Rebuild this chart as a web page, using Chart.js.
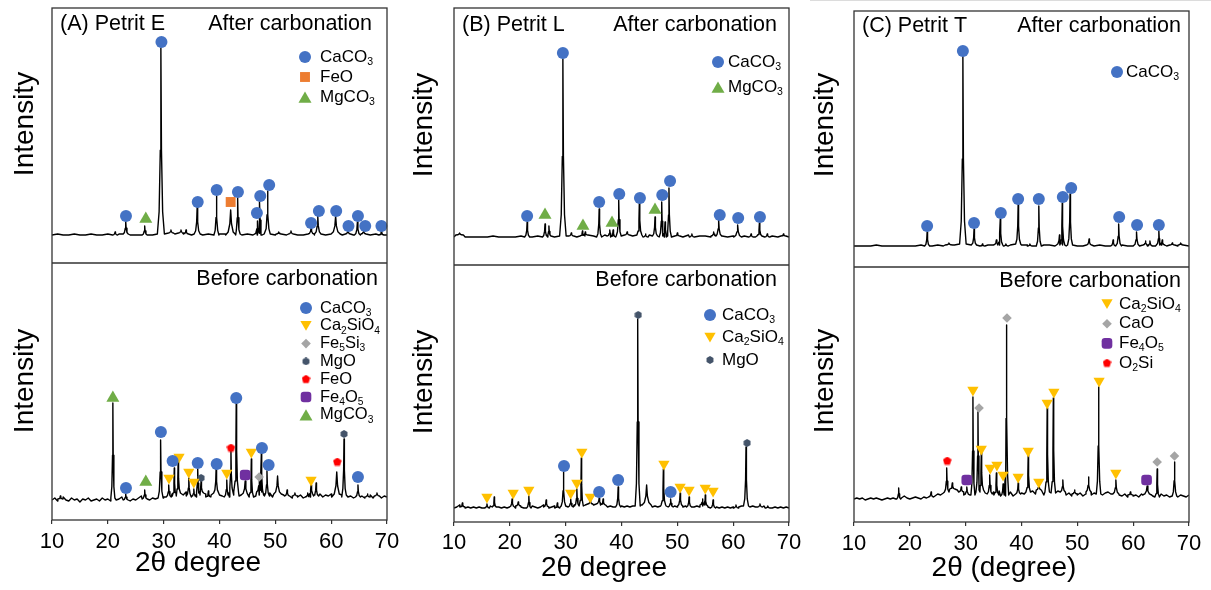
<!DOCTYPE html>
<html>
<head>
<meta charset="utf-8">
<script src="https://cdn.jsdelivr.net/npm/chart.js@4.4.1/dist/chart.umd.min.js"></script>
<style>
  body { margin: 0; background: #fff; width: 1211px; height: 590px; overflow: hidden; position: relative; }
  canvas { position: absolute; top: 0; }
  #topline { position: absolute; left: 810px; top: 0; width: 401px; height: 1px; background: #dcdcdc; }
</style>
</head>
<body>
<div id="topline"></div>
<canvas id="chartA" width="410" height="590" style="left:0"></canvas>
<canvas id="chartB" width="410" height="590" style="left:400px"></canvas>
<canvas id="chartC" width="411" height="590" style="left:800px"></canvas>
<script>
const FONT = "'Liberation Sans', Arial, Helvetica, sans-serif"
Chart.defaults.font.family = FONT
Chart.defaults.color = '#000'

/* ---------- data ---------- */
// background traces: values from 10 to 70 degrees, evenly spaced
// peaks: [2theta, height, width factor]
// phase marks: [2theta, intensity]

// (A) Petrit E, after carbonation
let aAfterBase = [0,1,0,0,1,0,0,1,0,0, 1,0,1,1,0,0,0,0,0,1, 1,2,1,2,1,0,1,0,1,0, 1,1,0,1,0,1,0,0,1,1, 0,1,0,1,0,0,1,0,1,0, 0,1,0,1,0,0,1,0,1,0, 0]
let aAfterPeaks = [[21.3,3,1],[23.2,13,1],[26.6,9,1],[29.5,186,1.4],[31.3,3,1],[33.1,3,1],[34.0,4,1],[36.0,27,1.2],[39.45,39,1],[42.0,25,2],[43.25,36,1],[46.8,14,1.4],[47.2,33,1],[48.6,43,1.1],[50.6,2,1],[52.8,3,1],[56.4,6,1.2],[57.6,18,1.3],[60.8,18,1.8],[63.0,4,1],[64.7,13,1.2],[65.8,4,1],[69.0,4,1]]
let aAfterCaCO3 = [[23.25,19],[29.6,193],[36.1,33],[39.5,45],[43.3,43],[46.7,22],[47.3,39],[48.9,50],[56.4,12],[57.8,24],[60.9,24],[63.1,9],[64.8,19],[66.1,9],[69.0,9]]
let aAfterFeO = [[42.0,33]]
let aAfterMgCO3 = [[26.8,16]]

// (A) Petrit E, before carbonation
let aBeforeBase = [0,2,-1,1,3,0,-1,2,0,1,-2,1,0,2,-1,0,1,-1,2,0,1,
  -1,2,0,1,3,0,2,-1,1,0,2,4,1,3,0,2,1,4,2,3,
  5,3,6,4,7,3,5,8,4,6,3,5,7,4,6,3,5,4,7,5,
  4,6,3,7,5,8,4,6,5,7,3,6,4,8,5,6,4,7,3,5,
  6,3,5,4,6,2,4,3,5,2,4,3,5,7,4,6,3,5,4,6,
  5,3,6,4,5,3,4,2,5,3,4,2,3,5,2,4,3,2,4,3]
let aBeforePeaks = [[11.5,3,1],[20.9,95,0.8],[23.2,6,1],[26.6,9,1],[29.45,58,1],[30.9,12,1],[31.9,28,0.8],[32.6,33,0.9],[34.5,18,1],[35.4,8,1],[36.1,26,0.9],[36.7,12,1],[38.0,6,1],[39.4,26,1],[41.3,17,1],[42.05,42,0.9],[43.0,92,0.9],[44.6,14,1.6],[45.7,38,0.9],[47.1,14,1],[47.5,42,0.9],[48.5,25,1],[50.4,18,1.5],[52.1,6,1],[53.5,3,1],[55.8,4,1],[56.4,10,1.2],[57.3,13,1],[61.0,25,2],[62.3,56,0.9],[64.8,12,1],[66.5,3,1],[68.2,3,1]]
let aBeforeCaCO3 = [[23.25,12],[29.5,68],[31.6,39],[36.1,37],[39.5,36],[43.0,102],[47.6,52],[48.8,35],[64.8,23]]
let aBeforeCa2SiO4 = [[30.95,22],[32.75,43],[34.5,28],[35.4,18],[41.3,27],[45.7,48],[56.4,20]]
let aBeforeFe5Si3 = [[47.1,23]]
let aBeforeMgO = [[36.7,22],[62.3,66]]
let aBeforeFeO = [[42.05,52],[61.1,38]]
let aBeforeFe4O5 = [[44.6,25]]
let aBeforeMgCO3 = [[20.9,102],[26.8,18]]

// (B) Petrit L, after carbonation
let bAfterBase = [0,2,0,0,0,0,0,1,0,0, 0,0,1,0,0,1,0,1,0,2, 1,1,0,1,2,1,0,2,1,0, 1,2,1,2,0,2,1,0,1,0, 1,0,2,0,1,1,0,1,1,0, 1,0,1,0,0,1,0,1,0,1, 0]
let bAfterPeaks = [[11.0,2,1.5],[23.1,15,1],[26.3,13,1],[27.0,10,0.8],[29.5,177,1.3],[31.0,3,1],[33.0,5,1],[33.5,3,1],[36.0,28,1],[37.9,6,1],[38.5,7,1],[39.5,36,1],[41.0,3,1],[43.2,33,1],[44.3,3,1],[46.0,19,1],[47.2,35,1],[47.8,14,1],[48.5,49,1],[50.0,3,1],[52.6,3,1],[56.5,4,1],[57.4,16,1.2],[60.8,12,1.5],[63.2,3,1],[64.7,13,1],[66.1,3,1],[69.0,2,1]]
let bAfterCaCO3 = [[23.1,21],[29.5,184],[36.0,35],[39.6,43],[43.3,39],[47.3,42],[48.7,56],[57.6,22],[60.9,19],[64.8,20]]
let bAfterMgCO3 = [[26.3,22],[33.1,11],[38.3,14],[46.0,27]]

// (B) Petrit L, before carbonation
let bBeforeBase = [0,1,3,1,0,1,0,1,0,1,0,1,0,2,1,0,1,0,1,0,2,
  1,0,2,1,0,1,0,2,1,0,1,3,1,0,1,2,0,1,2,1,
  2,1,3,2,1,2,3,2,4,3,5,4,3,2,1,2,1,2,1,2,
  1,2,1,2,3,2,3,2,3,2,1,2,1,2,3,2,2,1,2,1,
  2,1,2,1,0,1,2,1,3,2,1,2,0,1,0,1,0,1,0,1,
  0,1,2,1,2,1,2,1,0,1,2,0,1,0,1,0,1,0,1,0]
let bBeforePeaks = [[11.5,4,1],[15.9,4,1],[17.2,10,0.8],[20.4,8,1],[21.5,4,1],[23.4,12,0.9],[26.5,7,1],[28.5,5,1],[29.6,34,0.9],[30.9,8,1],[32.0,17,0.9],[32.8,48,0.8],[34.4,4,1],[36.0,6,1.2],[36.7,6,1],[39.4,20,1],[42.9,187,1],[44.5,20,1.8],[47.5,36,0.9],[48.8,8,1],[50.5,13,1],[52.1,10,1],[54.5,6,1],[55.0,11,1],[56.4,8,1],[60.5,3,1],[62.3,59,1],[64.8,3,1],[66.2,2,1]]
let bBeforeCaCO3 = [[29.7,42],[36.0,16],[39.4,28],[48.8,16]]
let bBeforeCa2SiO4 = [[15.9,11],[20.6,15],[23.4,18],[30.9,15],[32.0,25],[32.9,56],[34.4,11],[47.6,44],[50.5,21],[52.1,18],[55.0,20],[56.4,17]]
let bBeforeMgO = [[43.0,193],[62.5,65]]

// (C) Petrit T, after carbonation
let cAfterBase = [0,0,0,0,1,0,0,0,0,0, 0,0,1,0,0,1,0,1,1,1, 2,1,1,0,1,0,1,0,1,2, 1,1,0,0,1,1,0,1,0,1, 0,0,1,0,1,0,0,0,1,0, 0,0,1,0,0,1,0,1,0,1, 0]
let cAfterPeaks = [[23.1,14,1],[27.0,2,1.5],[29.5,189,1.3],[31.5,16,1],[33.0,2,1],[35.5,5,1.2],[36.2,26,1],[37.2,2,1],[39.4,40,1],[41.5,2,1],[43.1,40,1],[46.8,10,1.2],[47.3,42,1],[48.7,51,1],[52.1,6,1],[56.4,6,1],[57.4,22,1.1],[60.6,14,1.2],[62.2,4,1],[63.0,5,1],[64.6,14,1],[65.2,5,1],[67.0,2,1],[68.5,2,1]]
let cAfterCaCO3 = [[23.1,20],[29.5,195],[31.5,23],[36.3,33],[39.4,47],[43.1,47],[47.4,49],[48.9,58],[57.5,29],[60.7,21],[64.6,21]]

// (C) Petrit T, before carbonation
let cBeforeBase = [0,1,0,1,-1,0,1,0,1,0,-1,0,1,0,1,0,0,1,3,1,0,
  1,2,1,0,2,1,3,2,3,5,4,6,7,9,10,8,9,7,5,4,
  6,8,4,7,3,9,6,10,5,7,4,8,3,6,4,7,3,9,5,6,
  5,7,4,8,5,9,6,4,7,3,6,4,8,5,7,4,6,3,5,4,
  6,3,5,7,4,6,3,5,4,6,7,5,3,5,4,3,5,2,4,3,
  4,2,5,3,4,6,3,4,2,5,3,4,2,5,3,2,4,3,2,4]
let cBeforePeaks = [[18.0,11,0.8],[23.8,5,1],[26.6,24,0.9],[27.6,6,1],[29.2,5,1],[30.2,8,1.2],[31.3,98,0.8],[32.2,80,0.8],[32.8,38,0.9],[34.3,19,1],[35.5,22,1],[36.7,12,1],[37.3,170,0.9],[39.4,11,1],[41.2,37,0.9],[43.1,6,1],[44.6,84,0.9],[45.7,95,0.9],[47.4,12,1],[49.5,4,1],[52.0,15,1],[53.8,107,0.9],[56.9,14,1.2],[59.5,3,1],[62.5,9,1.8],[64.3,28,0.9],[67.4,34,0.9]]
let cBeforeCa2SiO4 = [[31.3,109],[32.8,50],[34.4,31],[35.6,34],[36.7,24],[39.4,22],[41.2,48],[43.1,17],[44.6,96],[45.8,107],[53.9,118],[56.9,26]]
let cBeforeCaO = [[32.4,91],[37.4,181],[64.3,37],[67.4,43]]
let cBeforeFe4O5 = [[30.2,19],[62.4,19]]
let cBeforeO2Si = [[26.7,38]]

let xTicks = [10, 20, 30, 40, 50, 60, 70]

/* ---------- phase marker styles ---------- */
let phases = {
  CaCO3:   { label: 'CaCO{3}', color: '#4472C4', point: 'circle', r: 6 },
  FeOsq:   { label: 'FeO', color: '#ED7D31', point: 'rect', r: 7 },
  MgCO3:   { label: 'MgCO{3}', color: '#70AD47', point: 'triangle', r: 7.5 },
  Ca2SiO4: { label: 'Ca{2}SiO{4}', color: '#FFC000', point: 'triangle', r: 6.5, rot: 180 },
  Fe5Si3:  { label: 'Fe{5}Si{3}', color: '#A5A5A5', point: 'rectRot', r: 4.8 },
  CaO:     { label: 'CaO', color: '#A5A5A5', point: 'rectRot', r: 4.8 },
  MgO:     { label: 'MgO', color: '#44546A', poly: 6, size: 8 },
  FeO:     { label: 'FeO', color: '#FF0000', poly: 5, size: 9 },
  Fe4O5:   { label: 'Fe{4}O{5}', color: '#7030A0', point: 'rectRounded', r: 6.2 },
  O2Si:    { label: 'O{2}Si', color: '#FF0000', poly: 5, size: 9 }
}

// pentagon / hexagon markers are small canvases
function polygon(sides, size, color) {
  let c = document.createElement('canvas')
  c.width = c.height = size
  let g = c.getContext('2d')
  g.fillStyle = color
  g.beginPath()
  for (let i = 0; i < sides; i++) {
    let a = -Math.PI / 2 + i * 2 * Math.PI / sides
    g.lineTo(size / 2 + size / 2 * Math.cos(a), size / 2 + size / 2 * Math.sin(a))
  }
  g.fill()
  return c
}
Object.values(phases).forEach(p => {
  if (p.poly) { p.point = polygon(p.poly, p.size, p.color); p.r = p.size / 2 }
})

// shape of one diffraction peak: [offset in width units, fraction of height]
let profile = [[-0.6,0],[-0.3,0.12],[-0.1,0.45],[0,1],[0.1,0.45],[0.3,0.12],[0.6,0]]

function buildPattern(base, peaks) {
  let step = 60 / (base.length - 1)
  let basePts = base.map((v, i) => ({ x: 10 + i * step, y: v }))
  let peakPts = []
  peaks.forEach(([pos, h, w]) => {
    let width = w * 0.75
    let b = base[Math.round((pos - 10) / step)]
    basePts = basePts.filter(p => Math.abs(p.x - pos) > 0.6 * width)
    profile.forEach(([dx, f]) => peakPts.push({ x: pos + dx * width, y: b + f * h }))
  })
  return basePts.concat(peakPts).sort((p, q) => p.x - q.x)
}

// text with {subscripts}
function drawRich(ctx, text, x, y, size) {
  let parts = text.split(/(\{[^}]*\})/).filter(s => s)
  ctx.textAlign = 'left'
  parts.forEach(s => {
    if (s[0] == '{') {
      let t = s.slice(1, -1)
      ctx.font = (size * 0.62) + 'px ' + FONT
      ctx.textBaseline = 'alphabetic'
      ctx.fillText(t, x, y + size * 0.47)
      x += ctx.measureText(t).width
    } else {
      ctx.font = size + 'px ' + FONT
      ctx.textBaseline = 'middle'
      ctx.fillText(s, x, y)
      x += ctx.measureText(s).width
    }
  })
}

// frame, panel texts and legends
let decor = {
  id: 'decor',
  afterDraw(chart, args, o) {
    let ctx = chart.ctx
    let a = chart.chartArea
    let mid = chart.scales.yTop.bottom
    ctx.save()
    ctx.strokeStyle = '#333'
    ctx.lineWidth = 1.3
    ctx.strokeRect(a.left, a.top, a.width, a.height)
    ctx.beginPath()
    ctx.moveTo(a.left, mid)
    ctx.lineTo(a.right, mid)
    ctx.stroke()

    ctx.fillStyle = '#000'
    ctx.textBaseline = 'middle'
    ctx.font = '21.5px ' + FONT
    ctx.textAlign = 'left'
    ctx.fillText(o.name, o.nameX, o.nameY)
    ctx.textAlign = 'right'
    ctx.fillText('After carbonation', o.stateX, o.afterY)
    ctx.fillText('Before carbonation', o.stateX2, o.beforeY)

    ctx.textAlign = 'center'
    ctx.font = '28px ' + FONT
    ctx.fillText(o.xTitle, o.xTitleX, o.xTitleY)
    o.intensityY.forEach(y => {
      ctx.save()
      ctx.translate(o.intensityX, y)
      ctx.rotate(-Math.PI / 2)
      ctx.fillText('Intensity', 0, 0)
      ctx.restore()
    })

    o.legends.forEach(lg => {
      lg.items.forEach((k, i) => {
        let p = phases[k]
        let y = lg.y + i * lg.dy
        ctx.fillStyle = p.color
        Chart.helpers.drawPoint(ctx, { pointStyle: p.point, radius: p.r, rotation: p.rot || 0, borderWidth: 0 }, lg.x, y + (p.point == 'triangle' ? (p.rot ? -p.r / 4 : p.r / 4) : 0))
        ctx.fillStyle = '#000'
        drawRich(ctx, p.label, lg.tx, y, lg.size)
      })
    })
    ctx.restore()
  }
}

function markSets(marks, axis) {
  return Object.entries(marks).map(([k, pts]) => {
    let p = phases[k]
    return {
      data: pts.map(([x, y]) => ({ x, y })),
      yAxisID: axis,
      pointStyle: p.point,
      pointRadius: p.r,
      pointRotation: p.rot || 0,
      backgroundColor: p.color,
      pointBackgroundColor: p.color,
      pointBorderWidth: 0,
      borderWidth: 0,
      showLine: false,
      clip: 12,
      order: 0
    }
  })
}

function makePanel(id, cfg) {
  let trace = (part, axis) => ({
    data: buildPattern(part.base, part.peaks), yAxisID: axis, showLine: true,
    borderColor: '#000', borderWidth: 1.4, borderJoinStyle: 'round', pointRadius: 0, tension: 0, order: 10
  })
  let datasets = [trace(cfg.after, 'yTop'), trace(cfg.before, 'yBot')]
    .concat(markSets(cfg.after.marks, 'yTop'), markSets(cfg.before.marks, 'yBot'))

  let yAxis = (range, w, weight) => ({
    type: 'linear', position: 'left', stack: 'xrd', stackWeight: w, weight: weight,
    min: range[0], max: range[1],
    ticks: { display: false }, grid: { display: false, drawTicks: false }, border: { display: false },
    afterFit: s => { s.width = cfg.yAxisW }
  })

  new Chart(document.getElementById(id), {
    type: 'scatter',
    data: { datasets },
    options: {
      responsive: false,
      animation: false,
      events: [],
      layout: { padding: cfg.padding },
      scales: {
        x: {
          type: 'linear', min: 10, max: 70,
          afterBuildTicks: s => { s.ticks = xTicks.map(v => ({ value: v })) },
          ticks: { font: { size: 22 }, color: '#000', padding: cfg.tickPad },
          grid: { drawOnChartArea: false, drawTicks: true, tickLength: 4, color: '#333', lineWidth: 1.2 },
          border: { display: false },
          afterFit: s => { s.height = cfg.xAxisH }
        },
        yTop: yAxis(cfg.after.range, cfg.after.weight, 2),
        yBot: yAxis(cfg.before.range, cfg.before.weight, 1)
      },
      plugins: { legend: { display: false }, tooltip: { enabled: false }, decor: cfg.decor }
    },
    plugins: [decor]
  })
}

makePanel('chartA', {
  padding: { left: 0, right: 23, top: 8, bottom: 10 }, yAxisW: 52, xAxisH: 60, tickPad: 5,
  after: { base: aAfterBase, peaks: aAfterPeaks, range: [-28, 227], weight: 255,
    marks: { CaCO3: aAfterCaCO3, FeOsq: aAfterFeO, MgCO3: aAfterMgCO3 } },
  before: { base: aBeforeBase, peaks: aBeforePeaks, range: [-20, 237], weight: 257,
    marks: { CaCO3: aBeforeCaCO3, Ca2SiO4: aBeforeCa2SiO4, Fe5Si3: aBeforeFe5Si3, MgO: aBeforeMgO, FeO: aBeforeFeO, Fe4O5: aBeforeFe4O5, MgCO3: aBeforeMgCO3 } },
  decor: {
    name: '(A) Petrit E', nameX: 60, nameY: 24, stateX: 372, afterY: 24, stateX2: 378, beforeY: 279,
    xTitle: '2θ degree', xTitleX: 198, xTitleY: 563, intensityX: 25, intensityY: [124, 381],
    legends: [
      { items: ['CaCO3', 'FeOsq', 'MgCO3'], x: 305, tx: 320, y: 57, dy: 20, size: 17 },
      { items: ['CaCO3', 'Ca2SiO4', 'Fe5Si3', 'MgO', 'FeO', 'Fe4O5', 'MgCO3'], x: 306, tx: 320, y: 308, dy: 17.8, size: 16.5 }
    ]
  }
})

makePanel('chartB', {
  padding: { left: 0, right: 21, top: 8, bottom: 8 }, yAxisW: 54, xAxisH: 60, tickPad: 4,
  after: { base: bAfterBase, peaks: bAfterPeaks, range: [-28, 229], weight: 257,
    marks: { CaCO3: bAfterCaCO3, MgCO3: bAfterMgCO3 } },
  before: { base: bBeforeBase, peaks: bBeforePeaks, range: [-14, 243], weight: 257,
    marks: { CaCO3: bBeforeCaCO3, Ca2SiO4: bBeforeCa2SiO4, MgO: bBeforeMgO } },
  decor: {
    name: '(B) Petrit L', nameX: 62, nameY: 25, stateX: 377, afterY: 25, stateX2: 377, beforeY: 280,
    xTitle: '2θ degree', xTitleX: 204, xTitleY: 568, intensityX: 24, intensityY: [125, 382],
    legends: [
      { items: ['CaCO3', 'MgCO3'], x: 318, tx: 328, y: 62, dy: 25, size: 17 },
      { items: ['CaCO3', 'Ca2SiO4', 'MgO'], x: 310, tx: 322, y: 315, dy: 22.5, size: 17 }
    ]
  }
})

makePanel('chartC', {
  padding: { left: 0, right: 22, top: 11, bottom: 8 }, yAxisW: 54, xAxisH: 60, tickPad: 5,
  after: { base: cAfterBase, peaks: cAfterPeaks, range: [-21, 235], weight: 256,
    marks: { CaCO3: cAfterCaCO3 } },
  before: { base: cBeforeBase, peaks: cBeforePeaks, range: [-23, 232], weight: 255,
    marks: { Ca2SiO4: cBeforeCa2SiO4, CaO: cBeforeCaO, Fe4O5: cBeforeFe4O5, O2Si: cBeforeO2Si } },
  decor: {
    name: '(C) Petrit T', nameX: 62, nameY: 26, stateX: 381, afterY: 26, stateX2: 381, beforeY: 281,
    xTitle: '2θ (degree)', xTitleX: 204, xTitleY: 568, intensityX: 25, intensityY: [125, 381],
    legends: [
      { items: ['CaCO3'], x: 317, tx: 326, y: 72, dy: 20, size: 17 },
      { items: ['Ca2SiO4', 'CaO', 'Fe4O5', 'O2Si'], x: 307, tx: 319, y: 304, dy: 19.7, size: 17 }
    ]
  }
})
</script>
</body>
</html>
